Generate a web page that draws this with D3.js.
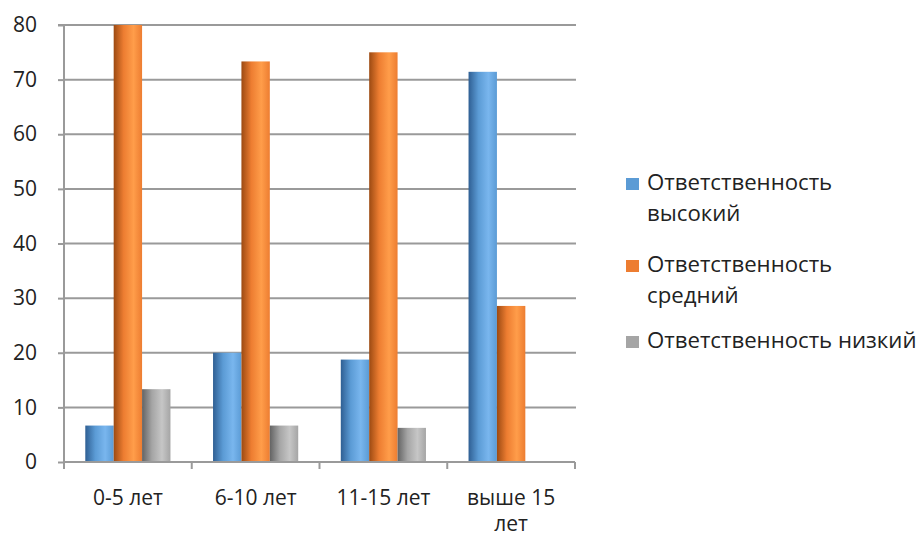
<!DOCTYPE html>
<html><head><meta charset="utf-8">
<script src="https://cdn.jsdelivr.net/npm/d3@7"></script>
<style>
html,body{margin:0;padding:0;background:#fff;}
svg text{font-family:"Open Sans","Noto Sans",sans-serif;fill:#222;}
</style></head>
<body>
<svg id="c" width="923" height="536"></svg>
<script>
const categories = ["0-5 лет", "6-10 лет", "11-15 лет", "выше 15 лет"];
const seriesNames = ["Ответственность высокий", "Ответственность средний", "Ответственность низкий"];
const high = [6.67, 20, 18.75, 71.43];
const mid = [80, 73.33, 75, 28.57];
const low = [13.33, 6.67, 6.25, 0];
const yTicks = [0, 10, 20, 30, 40, 50, 60, 70, 80];

const seriesValues = [high, mid, low];
const colors = [
  {dark:"#2f5f93", mid:"#5b9bd5", light:"#79b6ee", base:"#5b9bd5"},
  {dark:"#9c4a12", mid:"#ed7d31", light:"#ff9d4a", base:"#ed7d31"},
  {dark:"#636363", mid:"#a5a5a5", light:"#c6c6c6", base:"#a5a5a5"}
];

const svg = d3.select("#c");
const m = {left:64, right:575, top:25, bottom:462};

const x = d3.scaleBand().domain(categories).range([m.left, m.right]).paddingInner(0).paddingOuter(0);
const y = d3.scaleLinear().domain([0, 80]).range([m.bottom, m.top]);
const inner = d3.scaleBand().domain(d3.range(3)).range([0, x.bandwidth()]).paddingInner(0).paddingOuter(0.75);

const defs = svg.append("defs");
colors.forEach((c, i) => {
  const g = defs.append("linearGradient").attr("id", "g" + i).attr("x1", 0).attr("x2", 1).attr("y1", 0).attr("y2", 0);
  g.append("stop").attr("offset", "0%").attr("stop-color", c.dark);
  g.append("stop").attr("offset", "35%").attr("stop-color", c.mid);
  g.append("stop").attr("offset", "70%").attr("stop-color", c.light);
  g.append("stop").attr("offset", "100%").attr("stop-color", c.mid);
});

// gridlines
svg.append("g").selectAll("line").data(yTicks.filter(d => d > 0)).join("line")
  .attr("x1", m.left).attr("x2", m.right + 1)
  .attr("y1", d => y(d)).attr("y2", d => y(d))
  .attr("stroke", "#9a9a9a").attr("stroke-width", 2);

// y axis
const yAxis = svg.append("g").attr("transform", `translate(${m.left},0)`)
  .call(d3.axisLeft(y).tickValues(yTicks).tickSize(6).tickPadding(10));
yAxis.select(".domain").attr("stroke", "#9a9a9a").attr("stroke-width", 2).attr("d", `M-6,${m.top}H0V${m.bottom}`);
yAxis.selectAll(".tick line").attr("stroke", "#9a9a9a").attr("stroke-width", 2);
yAxis.selectAll(".tick text").attr("font-size", 21).attr("fill", "#222").attr("dx", -11);

// bars
const groups = svg.append("g").selectAll("g").data(categories).join("g")
  .attr("transform", d => `translate(${x(d)},0)`);
groups.selectAll("rect").data((d, ci) => seriesValues.map((s, si) => ({si, v: s[ci]})).filter(o => o.v > 0))
  .join("rect")
  .attr("x", d => inner(d.si))
  .attr("width", inner.bandwidth())
  .attr("y", d => y(d.v))
  .attr("height", d => y(0) - y(d.v))
  .attr("fill", d => `url(#g${d.si})`);

// x axis
const xAxis = svg.append("g").attr("transform", `translate(0,${m.bottom})`)
  .call(d3.axisBottom(x).tickSize(0).tickFormat(""));
xAxis.select(".domain").attr("stroke", "#9a9a9a").attr("stroke-width", 2).attr("d", `M${m.left},0H${m.right}`);
const tickPos = categories.map(c => x(c)).concat([m.right]);
svg.append("g").selectAll("line").data(tickPos).join("line")
  .attr("x1", d => d).attr("x2", d => d).attr("y1", m.bottom).attr("y2", m.bottom + 7)
  .attr("stroke", "#9a9a9a").attr("stroke-width", 2);

// x labels (wrapped like the original)
const xLabelLines = {"0-5 лет":["0-5 лет"], "6-10 лет":["6-10 лет"], "11-15 лет":["11-15 лет"], "выше 15 лет":["выше 15", "лет"]};
svg.append("g").selectAll("text").data(categories).join("text")
  .attr("x", d => x(d) + x.bandwidth() / 2)
  .attr("y", 505)
  .attr("text-anchor", "middle").attr("font-size", 21)
  .each(function(d) {
    const t = d3.select(this);
    xLabelLines[d].forEach((ln, i) => t.append("tspan").attr("x", x(d) + x.bandwidth() / 2).attr("dy", i ? 26 : 0).text(ln));
  });

// legend
const legendLines = [["Ответственность", "высокий"], ["Ответственность", "средний"], ["Ответственность низкий"]];
const legendY = [190, 272, 348];
const lg = svg.append("g");
legendLines.forEach((lines, i) => {
  lg.append("rect").attr("x", 626).attr("y", legendY[i] - 12).attr("width", 13).attr("height", 12).attr("fill", colors[i].base);
  const t = lg.append("text").attr("x", 647).attr("y", legendY[i]).attr("font-size", 22.2);
  lines.forEach((ln, j) => t.append("tspan").attr("x", 647).attr("dy", j ? 31 : 0).text(ln));
});
</script>
</body></html>
